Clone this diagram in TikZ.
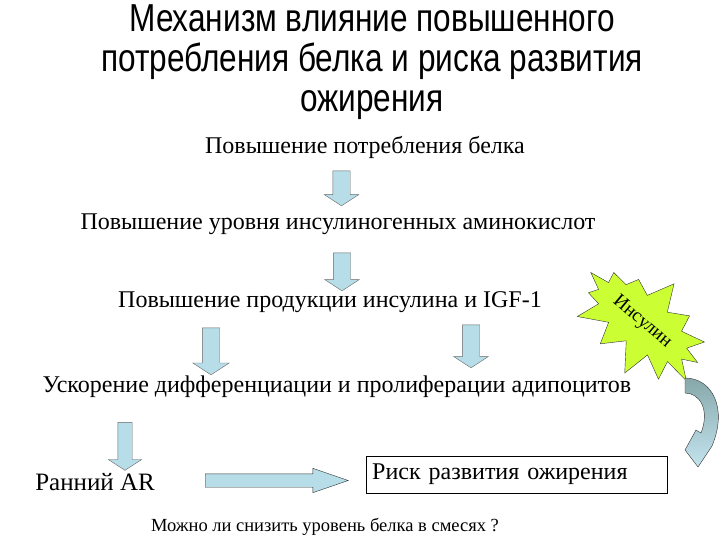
\documentclass[tikz,border=0pt]{standalone}
\usepackage{fontspec}
\setmainfont{Liberation Serif}
\newfontfamily\titlefont[FakeStretch=0.81]{Liberation Sans}
\usetikzlibrary{shapes.arrows, shapes.symbols}
\definecolor{arrowblue}{RGB}{183,221,232}
\definecolor{burst}{RGB}{204,255,51}
\definecolor{curvetop}{RGB}{135,168,170}
\definecolor{curvebot}{RGB}{195,228,238}

\tikzset{
  steptext/.style={font=\fontsize{24}{28}\selectfont, inner sep=0pt},
  blockdown/.style={single arrow, draw=black!60, fill=arrowblue, thin,
    shape border rotate=270, inner sep=8.5pt, single arrow tip angle=114,
    single arrow head extend=8.5pt, single arrow head indent=0pt},
}

\begin{document}
\begin{tikzpicture}[x=1pt, y=-1pt]
    \useasboundingbox (0,0) rectangle (720,540);

    \node[align=center, font=\titlefont\fontsize{39}{40}\selectfont] (title) at (372, 62)
      {Механизм влияние повышенного\\потребления белка и риска развития\\ожирения};

    \node[steptext] (protein) at (365, 147) {Повышение потребления белка};
    \node[steptext] (amino) at (338, 224) {Повышение уровня инсулиногенных аминокислот};
    \node[steptext] (insulin) at (330, 302) {Повышение продукции инсулина и IGF-1};
    \node[steptext] (adipo) at (337, 387) {Ускорение дифференциации и пролиферации адипоцитов};
    \node[steptext, font=\fontsize{25}{28}\selectfont] (early) at (95, 482) {Ранний AR};
    \node[steptext, draw, thin, anchor=west, minimum width=301pt, minimum height=37pt,
      text width=289pt, inner xsep=6pt, align=left] (risk) at (366, 474.5) {Риск развития ожирения};
    \node[font=\fontsize{18.5}{20}\selectfont, inner sep=0pt] (question) at (325, 527)
      {Можно ли снизить уровень белка в смесях ?};

    % block arrows
    \node[blockdown, minimum height=35pt] (a1) at (341.5, 185.5) {};
    \node[blockdown, minimum height=38pt] (a2) at (342, 269) {};
    \node[blockdown, minimum height=47pt, single arrow head extend=9.5pt] (a3) at (211, 348.5) {};
    \node[blockdown, minimum height=43pt] (a4) at (471, 343.5) {};
    \node[blockdown, minimum height=48pt, inner sep=7pt, single arrow head extend=9.5pt] (a5) at (125, 444) {};
    \node[blockdown, shape border rotate=0, draw=black!80, minimum height=143pt, inner sep=6.5pt,
      single arrow tip angle=38, single arrow head extend=5.5pt] (a6) at (267, 480.5) {};

    % burst
    \node[starburst, starburst points=13, starburst point height=28pt, random starburst=7,
      draw=black!80, fill=burst, minimum width=145pt, minimum height=105pt, rotate=-40,
      font=\fontsize{19}{21}\selectfont] (burst) at (642, 322) {Инсулин};

    % curved arrow
    \shade[top color=curvetop, bottom color=curvebot, draw=black!80, thin]
      (685,378) .. controls (712,378) and (728,408) .. (712,446)
      -- (698,467) -- (685,450) -- (696,430)
      -- (701,433) .. controls (710,410) and (700,393) .. (685,393) -- cycle;
\end{tikzpicture}
\end{document}
